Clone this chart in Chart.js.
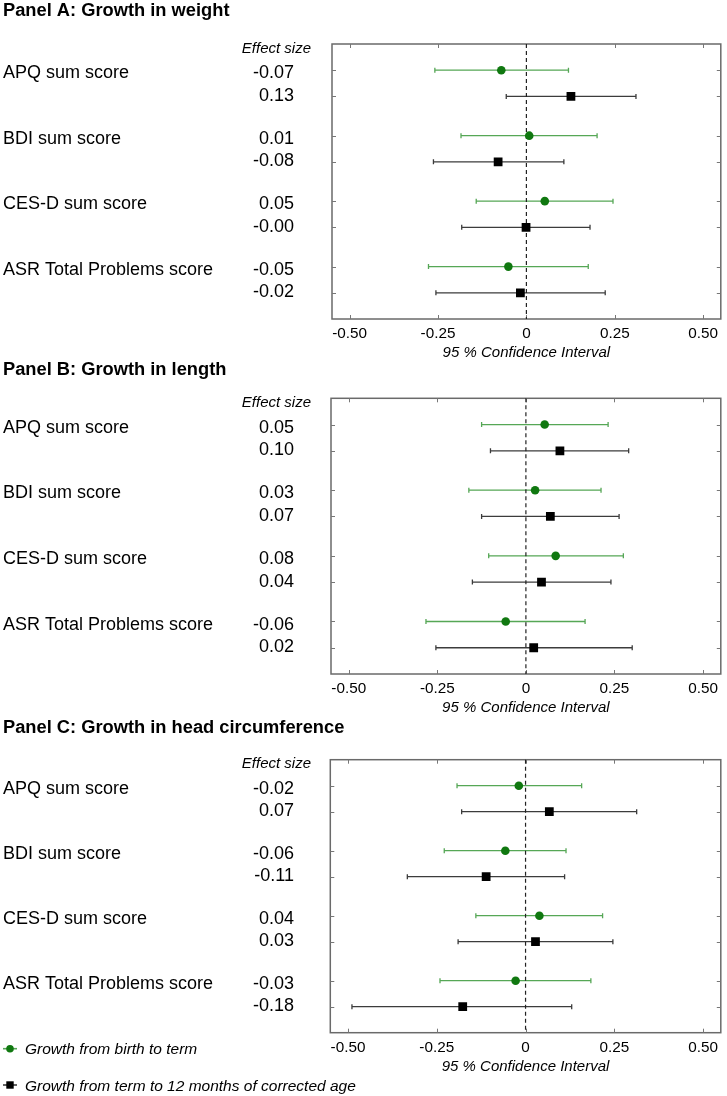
<!DOCTYPE html>
<html>
<head>
<meta charset="utf-8">
<script src="https://cdn.jsdelivr.net/npm/chart.js@4.4.1/dist/chart.umd.min.js"></script>
<style>
html,body{margin:0;padding:0;background:#fff;}
body{width:727px;height:1096px;position:relative;overflow:hidden;}
.wrap{position:absolute;left:0;width:727px;}
</style>
</head>
<body>
<div class="wrap" style="top:0px"><canvas id="cA" width="727" height="364"></canvas></div>
<div class="wrap" style="top:350px"><canvas id="cB" width="727" height="369"></canvas></div>
<div class="wrap" style="top:700px"><canvas id="cC" width="727" height="396"></canvas></div>
<script>
// ---------- data ----------
const categories = ['APQ sum score', 'BDI sum score', 'CES-D sum score', 'ASR Total Problems score'];
const seriesNames = ['Growth from birth to term', 'Growth from term to 12 months of corrected age'];
const xTickValues = [-0.5, -0.25, 0, 0.25, 0.5];
const xAxisTitle = '95 % Confidence Interval';
const effectHeader = 'Effect size';
const panelTitles = ['Panel A: Growth in weight', 'Panel B: Growth in length', 'Panel C: Growth in head circumference'];

// Panel A: growth in weight
const weightBirthEst = [-0.071, 0.008, 0.052, -0.051];
const weightBirthLo  = [-0.259, -0.185, -0.142, -0.277];
const weightBirthHi  = [0.119, 0.200, 0.245, 0.175];
const weightTermEst  = [0.126, -0.080, -0.001, -0.017];
const weightTermLo   = [-0.057, -0.263, -0.183, -0.256];
const weightTermHi   = [0.310, 0.106, 0.180, 0.223];

// Panel B: growth in length
const lengthBirthEst = [0.053, 0.026, 0.084, -0.057];
const lengthBirthLo  = [-0.125, -0.161, -0.105, -0.282];
const lengthBirthHi  = [0.232, 0.212, 0.275, 0.167];
const lengthTermEst  = [0.096, 0.069, 0.044, 0.022];
const lengthTermLo   = [-0.100, -0.125, -0.151, -0.254];
const lengthTermHi   = [0.290, 0.263, 0.240, 0.300];

// Panel C: growth in head circumference
const headBirthEst = [-0.019, -0.057, 0.039, -0.028];
const headBirthLo  = [-0.193, -0.229, -0.140, -0.241];
const headBirthHi  = [0.158, 0.114, 0.217, 0.184];
const headTermEst  = [0.067, -0.111, 0.028, -0.177];
const headTermLo   = [-0.180, -0.333, -0.190, -0.489];
const headTermHi   = [0.313, 0.110, 0.246, 0.130];

// ---------- style ----------
const FONT = '"Liberation Sans", Arial, Helvetica, sans-serif';
const GREEN_MARK = '#107810';
const GREEN_LINE = '#56a756';
const BLACK_MARK = '#000000';
const BLACK_LINE = '#3c3c3c';
const FRAME = '#6a6a6a';

function rowOf(g, s) { return g * 2.5 + s; }
function fmt(v) { return v.toFixed(2); }

function makePlugin(panel) {
  return {
    id: 'forest' + panel.key,
    beforeDatasetsDraw(chart) {
      const ctx = chart.ctx, a = chart.chartArea, x = chart.scales.x, y = chart.scales.y;
      ctx.save();
      // frame
      ctx.strokeStyle = FRAME; ctx.lineWidth = 1.5; ctx.setLineDash([]);
      ctx.strokeRect(a.left, a.top, a.right - a.left, a.bottom - a.top);
      // inward ticks
      ctx.lineWidth = 1; ctx.strokeStyle = '#777';
      ctx.beginPath();
      xTickValues.forEach(v => {
        const px = Math.round(x.getPixelForValue(v)) + 0.5;
        ctx.moveTo(px, a.top); ctx.lineTo(px, a.top + 4);
        ctx.moveTo(px, a.bottom); ctx.lineTo(px, a.bottom - 4);
      });
      categories.forEach((c, g) => {
        [0, 1].forEach(s => {
          const py = Math.round(y.getPixelForValue(rowOf(g, s))) + 0.5;
          ctx.moveTo(a.left, py); ctx.lineTo(a.left + 4, py);
          ctx.moveTo(a.right, py); ctx.lineTo(a.right - 4, py);
        });
      });
      ctx.stroke();
      // error bars
      panel.series.forEach((ser, s) => {
        ctx.strokeStyle = ser.line; ctx.lineWidth = 1.3;
        ser.lo.forEach((lo, g) => {
          const py = y.getPixelForValue(rowOf(g, s));
          const x0 = x.getPixelForValue(lo), x1 = x.getPixelForValue(ser.hi[g]);
          ctx.beginPath();
          ctx.moveTo(x0, py); ctx.lineTo(x1, py);
          ctx.moveTo(x0, py - 2.5); ctx.lineTo(x0, py + 2.5);
          ctx.moveTo(x1, py - 2.5); ctx.lineTo(x1, py + 2.5);
          ctx.stroke();
        });
      });
      // zero reference line
      const zx = x.getPixelForValue(0);
      ctx.strokeStyle = '#222'; ctx.lineWidth = 1.2; ctx.setLineDash([4, 3]);
      ctx.beginPath(); ctx.moveTo(zx, a.top); ctx.lineTo(zx, a.bottom); ctx.stroke();
      ctx.restore();
    },
    afterDraw(chart) {
      const ctx = chart.ctx, y = chart.scales.y;
      ctx.save();
      ctx.fillStyle = '#000';
      ctx.textBaseline = 'alphabetic';
      ctx.textAlign = 'left';
      ctx.font = 'bold 18.3px ' + FONT;
      ctx.fillText(panel.title, 3, panel.titleBaseline);
      categories.forEach((cat, g) => {
        const yA = y.getPixelForValue(rowOf(g, 0)), yB = y.getPixelForValue(rowOf(g, 1));
        const mid = (yA + yB) / 2, l1 = mid - 11.3, l2 = mid + 11.3;
        ctx.font = '18px ' + FONT;
        ctx.textAlign = 'left';
        ctx.fillText(cat, 3, l1 + 6.4);
        ctx.textAlign = 'right';
        ctx.fillText(fmt(panel.series[0].est[g]), 294, l1 + 6.4);
        ctx.fillText(fmt(panel.series[1].est[g]), 294, l2 + 6.4);
        if (g === 0) {
          ctx.font = 'italic 15px ' + FONT;
          ctx.fillText(effectHeader, 311, l1 - 24.5 + 5.4);
        }
      });
      if (panel.legend) {
        panel.series.forEach((ser, s) => {
          const ly = panel.legend[s];
          ctx.strokeStyle = ser.line; ctx.lineWidth = 1.6;
          ctx.beginPath(); ctx.moveTo(3, ly); ctx.lineTo(17, ly); ctx.stroke();
          ctx.fillStyle = ser.mark;
          if (s === 0) { ctx.beginPath(); ctx.arc(10, ly, 3.8, 0, Math.PI * 2); ctx.fill(); }
          else { ctx.fillRect(6.3, ly - 3.7, 7.4, 7.4); }
          ctx.fillStyle = '#000';
          ctx.font = 'italic 15.5px ' + FONT;
          ctx.textAlign = 'left';
          ctx.fillText(seriesNames[s], 25, ly + 5.6);
        });
      }
      ctx.restore();
    }
  };
}

function makePanel(id, panel) {
  const datasets = panel.series.map((ser, s) => ({
    label: seriesNames[s],
    data: ser.est.map((v, g) => ({ x: v, y: rowOf(g, s) })),
    pointStyle: s === 0 ? 'circle' : 'rect',
    pointRadius: s === 0 ? 4.3 : 6.2,
    pointHoverRadius: s === 0 ? 4.3 : 6.2,
    backgroundColor: ser.mark,
    borderColor: ser.mark,
    borderWidth: 0,
    showLine: false
  }));
  return new Chart(document.getElementById(id), {
    type: 'scatter',
    data: { datasets },
    options: {
      responsive: false,
      animation: false,
      devicePixelRatio: 1,
      layout: { padding: panel.padding },
      plugins: { legend: { display: false }, tooltip: { enabled: false } },
      scales: {
        x: {
          type: 'linear', min: -0.55, max: 0.55,
          afterBuildTicks: sc => { sc.ticks = xTickValues.map(v => ({ value: v })); },
          afterFit: sc => { sc.height = 45; },
          grid: { display: false, drawTicks: false },
          border: { display: false },
          ticks: {
            autoSkip: false, maxRotation: 0, padding: 5.5, color: '#000',
            font: { family: FONT, size: 15.3 },
            callback: v => (v === 0 ? '0' : v.toFixed(2))
          },
          title: {
            display: true, text: xAxisTitle, color: '#000',
            font: { family: FONT, size: 15, style: 'italic' },
            padding: { top: 0, bottom: 2 }
          }
        },
        y: { type: 'linear', min: -1, max: 9.5, reverse: true, display: false }
      }
    },
    plugins: [makePlugin(panel)]
  });
}

function series(est, lo, hi, s) {
  return { est, lo, hi, mark: s === 0 ? GREEN_MARK : BLACK_MARK, line: s === 0 ? GREEN_LINE : BLACK_LINE };
}

makePanel('cA', {
  key: 'A', title: panelTitles[0], titleBaseline: 15.5,
  padding: { top: 44, left: 332, right: 3, bottom: 0 },
  series: [series(weightBirthEst, weightBirthLo, weightBirthHi, 0), series(weightTermEst, weightTermLo, weightTermHi, 1)]
});
makePanel('cB', {
  key: 'B', title: panelTitles[1], titleBaseline: 25,
  padding: { top: 48.3, left: 331, right: 3, bottom: 0 },
  series: [series(lengthBirthEst, lengthBirthLo, lengthBirthHi, 0), series(lengthTermEst, lengthTermLo, lengthTermHi, 1)]
});
makePanel('cC', {
  key: 'C', title: panelTitles[2], titleBaseline: 32.7,
  padding: { top: 59.7, left: 330.3, right: 5.3, bottom: 18.3 },
  legend: [348.7, 385],
  series: [series(headBirthEst, headBirthLo, headBirthHi, 0), series(headTermEst, headTermLo, headTermHi, 1)]
});
</script>
</body>
</html>
